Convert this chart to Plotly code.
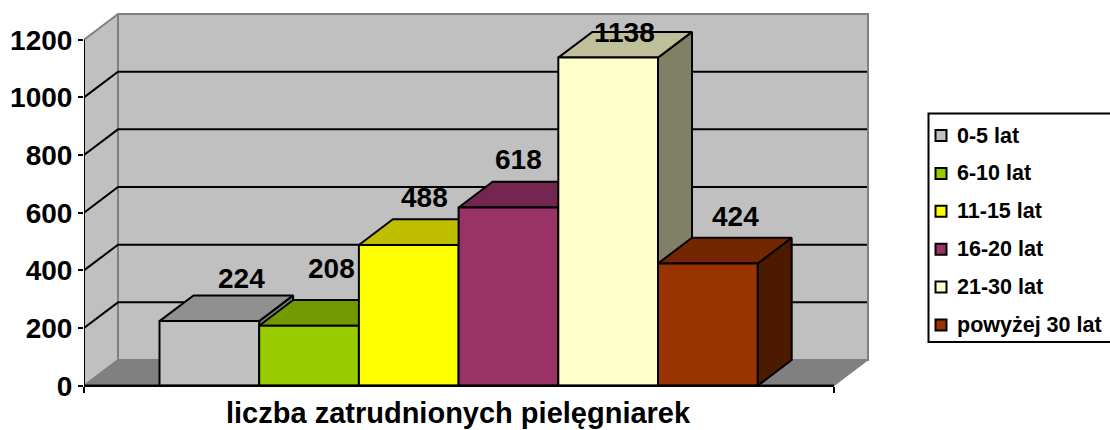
import plotly.graph_objects as go

categories = ["0-5 lat", "6-10 lat", "11-15 lat", "16-20 lat", "21-30 lat", "powyżej 30 lat"]
values = [224, 208, 488, 618, 1138, 424]
y_ticks = [0, 200, 400, 600, 800, 1000, 1200]
front_colors = ["#C0C0C0", "#99CC00", "#FFFF00", "#993366", "#FFFFCC", "#993300"]
top_colors = ["#909090", "#739900", "#BFBF00", "#732650", "#BFBF99", "#732600"]
side_colors = ["#808080", "#4D6600", "#808000", "#4D1A33", "#808066", "#4D1A00"]
x_title = "liczba zatrudnionych pielęgniarek"

# Layout of the pseudo-3D scene (x axis unit = 1 px, y axis in value units)
W, H = 1110, 430
BASE_PX = 385.7
PX_PER_UNIT = 346 / 1200
X0, X1 = 84, 834
DX = 34
DY = 25.7 / PX_PER_UNIT
BAR0 = 159.5
BAR_W = 99.7
GREY = "#808080"
FONT = "Liberation Sans"

# offset of each data label from the centre of the bar's front top edge
label_off = [(32, 43), (22, 57), (16, 47), (10, 48), (16, 25), (28, 47)]

fig = go.Figure()


def poly(xs, ys, fill, line="black", width=2):
    fig.add_trace(go.Scatter(x=xs + xs[:1], y=ys + ys[:1], mode="lines", fill="toself",
                             fillcolor=fill, line=dict(color=line, width=width),
                             hoverinfo="skip", showlegend=False))


def seg(xs, ys, color="black", width=2):
    fig.add_trace(go.Scatter(x=xs, y=ys, mode="lines", line=dict(color=color, width=width),
                             hoverinfo="skip", showlegend=False))


ymax = y_ticks[-1]
# walls and floor
poly([X0, X0 + DX, X0 + DX, X0], [0, DY, ymax + DY, ymax], "#C0C0C0", GREY, 2)
poly([X0 + DX, X1 + DX, X1 + DX, X0 + DX], [DY, DY, ymax + DY, ymax + DY], "#C0C0C0", GREY, 2)
poly([X0, X0 + DX, X1 + DX, X1], [0, DY, DY, 0], GREY, GREY, 1)
# grid lines
for t in y_ticks[1:-1]:
    seg([X0, X0 + DX, X1 + DX - 1], [t, t + DY, t + DY])

# bars
for i, v in enumerate(values):
    l = BAR0 + i * BAR_W
    r = l + BAR_W
    poly([r, r + DX, r + DX, r], [0, DY, v + DY, v], side_colors[i])
    poly([l, l + DX, r + DX, r], [v, v + DY, v + DY, v], top_colors[i])
    poly([l, r, r, l], [0, 0, v, v], front_colors[i])

# axis lines
seg([X0, X0], [0, ymax], "black", 2)
seg([X0, X1], [0, 0], "black", 2.5)

# legend marks
LEG_X, LEG_Y0, LEG_STEP = 941, 135.5, 37.9
py2val = lambda p: (BASE_PX - p) / PX_PER_UNIT
fig.add_trace(go.Scatter(
    x=[LEG_X] * len(categories),
    y=[py2val(LEG_Y0 + i * LEG_STEP) for i in range(len(categories))],
    mode="markers",
    marker=dict(symbol="square", size=11, color=front_colors, line=dict(color="black", width=2)),
    hoverinfo="skip", showlegend=False))

annotations = []
for i, (c, v) in enumerate(zip(categories, values)):
    ox, oy = label_off[i]
    annotations.append(dict(
        x=BAR0 + (i + 0.5) * BAR_W + ox, y=v, yshift=oy, text=str(v), showarrow=False,
        xref="x", yref="y", font=dict(family=FONT, size=28, color="black", weight=700)))
    annotations.append(dict(
        x=955, y=py2val(LEG_Y0 + i * LEG_STEP), xanchor="left", text=c, showarrow=False,
        xref="x", yref="y", font=dict(family=FONT, size=21.5, color="black", weight=700)))
annotations.append(dict(
    x=458.5, y=py2val(412.5), text=x_title, showarrow=False, xref="x", yref="y",
    font=dict(family=FONT, size=29, color="black", weight=700)))

fig.update_layout(
    width=W, height=H, margin=dict(l=X0, r=0, t=0, b=0, autoexpand=False),
    paper_bgcolor="white", plot_bgcolor="white", showlegend=False, hovermode=False,
    annotations=annotations,
    shapes=[dict(type="rect", xref="x", yref="y", x0=928.5, x1=1115,
                 y0=py2val(113.5), y1=py2val(342), line=dict(color="black", width=2),
                 fillcolor="rgba(0,0,0,0)")],
    xaxis=dict(range=[X0, W], showgrid=False, zeroline=False, showline=False,
               tickmode="array", tickvals=[X0, X1], ticks="outside", ticklen=6, tickwidth=2,
               tickcolor="black", showticklabels=False,
               anchor="free", position=(H - BASE_PX) / H),
    yaxis=dict(range=[py2val(H), py2val(0)], showgrid=False, zeroline=False, showline=False,
               tickmode="array", tickvals=y_ticks, ticks="outside", ticklen=5, tickwidth=2,
               tickcolor="black", ticklabelstandoff=0,
               tickfont=dict(family=FONT, size=28, color="black", weight=700)),
)
fig.write_html("out.html", config=dict(displayModeBar=False),
               post_script="document.body.style.margin='0';document.body.style.overflow='hidden';")
